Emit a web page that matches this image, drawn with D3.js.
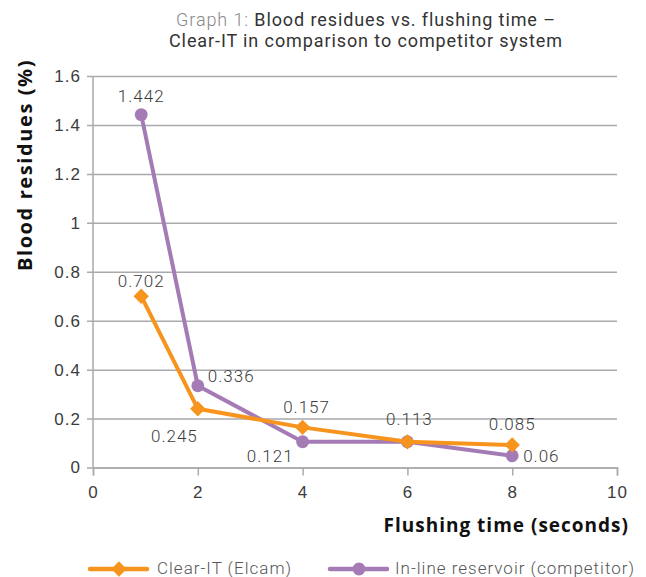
<!DOCTYPE html>
<html>
<head>
<meta charset="utf-8">
<script src="https://cdn.jsdelivr.net/npm/d3@7"></script>
<style>
  body { margin: 0; background: #fff; }
  svg { font-family: Roboto, "Open Sans", sans-serif; }
</style>
</head>
<body>
<div id="app"></div>
<script>
// data
const flushTimes = [0.92, 2, 4, 6, 8];
const clearIT = [0.70, 0.24, 0.164, 0.105, 0.092];
const inlineReservoir = [1.442, 0.334, 0.105, 0.105, 0.048];
const clearITLabels = ['0.702', '0.245', '0.157', '0.113', '0.085'];
const inlineLabels = ['1.442', '0.336', '0.121', null, '0.06'];
const xTicks = [0, 2, 4, 6, 8, 10];
const yTicks = [0, 0.2, 0.4, 0.6, 0.8, 1, 1.2, 1.4, 1.6];

// label placement (dx, dy from point, anchor)
const clearITPlace = [[0, -15, 'middle'], [0, 27, 'end'], [4, -20, 'middle'], [2, -23, 'middle'], [0, -21, 'middle']];
const inlinePlace = [[0, -19, 'middle'], [10, -10, 'start'], [-9, 14, 'end'], null, [11, 0, 'start']];

const W = 646, H = 577;
const margin = { top: 76, right: 29, bottom: 110, left: 93 };

const svg = d3.select('#app').append('svg')
  .attr('width', W)
  .attr('height', H);

const x = d3.scaleLinear().domain([0, 10]).range([margin.left, W - margin.right]);
const y = d3.scaleLinear().domain([0, 1.6]).range([H - margin.bottom + 0.5, margin.top]);

const gridColor = '#a9a9ae';
const tickColor = '#3c3c3c';
const numStyle = sel => sel
  .style('font-size', '17px')
  .style('font-weight', 300)
  .style('letter-spacing', '1px')
  .attr('fill', tickColor);

// title
const title = svg.append('text')
  .attr('text-anchor', 'middle')
  .style('font-size', '18px')
  .style('letter-spacing', '0.9px')
  .attr('fill', '#333');
const t1 = title.append('tspan').attr('x', 366).attr('y', 26);
t1.append('tspan').attr('fill', '#888').style('font-weight', 300).text('Graph 1: ');
t1.append('tspan').text('Blood residues vs. flushing time –');
title.append('tspan').attr('x', 366).attr('y', 47).text('Clear-IT in comparison to competitor system');

// y grid + axis
const yAxis = svg.append('g')
  .attr('transform', `translate(${margin.left},0)`)
  .call(d3.axisLeft(y).tickValues(yTicks).tickSize(-(W - margin.left - margin.right)).tickPadding(12).tickFormat(d3.format('')));
yAxis.select('.domain').remove();
yAxis.selectAll('.tick line').attr('stroke', gridColor).attr('stroke-width', 1.5).attr('x1', -6);
yAxis.selectAll('.tick text').attr('font-family', null).call(numStyle);

svg.append('line')
  .attr('x1', margin.left).attr('x2', margin.left)
  .attr('y1', margin.top).attr('y2', y(0))
  .attr('stroke', gridColor).attr('stroke-width', 1.5);

// x axis
const xAxis = svg.append('g')
  .attr('transform', `translate(0,${y(0)})`)
  .call(d3.axisBottom(x).tickValues(xTicks).tickSize(8).tickPadding(10).tickFormat(d3.format('')));
xAxis.select('.domain').attr('stroke', gridColor).attr('stroke-width', 1.5);
xAxis.selectAll('.tick line').attr('stroke', gridColor).attr('stroke-width', 1.5);
xAxis.selectAll('.tick text').attr('font-family', null).call(numStyle);

// axis titles
svg.append('text')
  .attr('transform', 'translate(32,165) rotate(-90)')
  .attr('text-anchor', 'middle')
  .style('font-family', '"Open Sans", sans-serif')
  .style('font-size', '20px')
  .style('font-weight', 700)
  .style('letter-spacing', '1.6px')
  .attr('fill', '#111')
  .text('Blood residues (%)');

svg.append('text')
  .attr('x', 629).attr('y', 532)
  .attr('text-anchor', 'end')
  .style('font-family', '"Open Sans", sans-serif')
  .style('font-size', '19px')
  .style('font-weight', 700)
  .style('letter-spacing', '1px')
  .attr('fill', '#111')
  .text('Flushing time (seconds)');

const series = [
  { name: 'Clear-IT (Elcam)', values: clearIT, labels: clearITLabels, place: clearITPlace, color: '#f7941d', shape: d3.symbolDiamond2 },
  { name: 'In-line reservoir (competitor)', values: inlineReservoir, labels: inlineLabels, place: inlinePlace, color: '#a57bb5', shape: d3.symbolCircle }
];

const line = d3.line().x(d => x(d[0])).y(d => y(d[1]));
const symSize = s => s === d3.symbolCircle ? 130 : 150;

// draw purple first so orange sits on top
series.slice().reverse().forEach(s => {
  const pts = flushTimes.map((t, i) => [t, s.values[i]]);
  svg.append('path')
    .datum(pts)
    .attr('d', line)
    .attr('fill', 'none')
    .attr('stroke', s.color)
    .attr('stroke-width', 4)
    .attr('stroke-linejoin', 'round');
  svg.append('g').selectAll('path')
    .data(pts)
    .join('path')
    .attr('transform', d => `translate(${x(d[0])},${y(d[1])})`)
    .attr('d', d3.symbol(s.shape, symSize(s.shape)))
    .attr('fill', s.color);
});

// value labels
series.forEach(s => {
  flushTimes.forEach((t, i) => {
    if (!s.labels[i]) return;
    const [dx, dy, anchor] = s.place[i];
    svg.append('text')
      .attr('x', x(t) + dx)
      .attr('y', y(s.values[i]) + dy)
      .attr('dy', '0.35em')
      .attr('text-anchor', anchor)
      .call(numStyle)
      .text(s.labels[i]);
  });
});

// legend
const legend = svg.append('g');
const legendX = [90, 330];
series.forEach((s, i) => {
  const g = legend.append('g').attr('transform', `translate(${legendX[i]},569)`);
  g.append('line').attr('x1', 0).attr('x2', 57).attr('stroke', s.color).attr('stroke-width', 4.5).attr('stroke-linecap', 'round');
  g.append('path').attr('transform', 'translate(29,0)').attr('d', d3.symbol(s.shape, symSize(s.shape))).attr('fill', s.color);
  g.append('text')
    .attr('x', i === 0 ? 67 : 65)
    .attr('y', 5)
    .style('font-size', '17px')
    .style('font-weight', 300)
    .style('letter-spacing', '1px')
    .attr('fill', '#555')
    .text(s.name);
});
</script>
</body>
</html>
